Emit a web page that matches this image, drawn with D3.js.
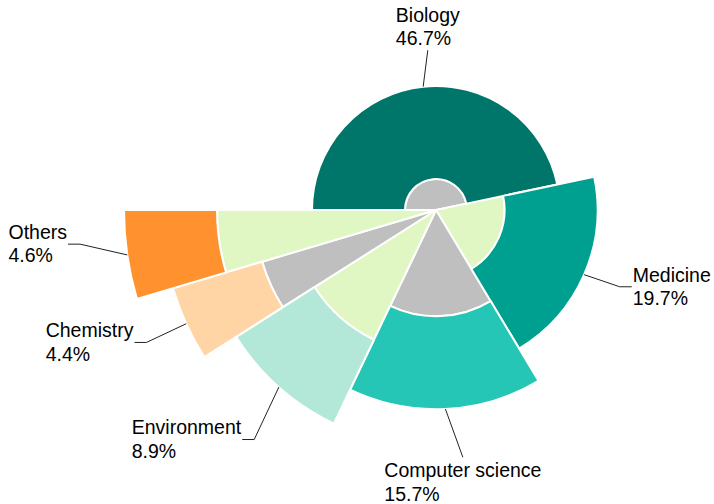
<!DOCTYPE html>
<html lang="en">
<head>
<meta charset="utf-8">
<title>Research areas</title>
<script src="https://d3js.org/d3.v7.min.js"></script>
<style>
    html, body { margin: 0; padding: 0; background: #fff; }
    svg { display: block; }
    .lbl { font-family: Arial, "Liberation Sans", sans-serif; font-size: 19.5px; fill: #000; }
</style>
</head>
<body>
<svg id="chart" width="714" height="504"></svg>
<script>

    // data
    var categories = ["Biology", "Medicine", "Computer science", "Environment", "Chemistry", "Others"];
    var shares = [46.7, 19.7, 15.7, 8.9, 4.4, 4.6];
    var ringColors = ["#00766b", "#00a091", "#26c6b7", "#b3e8d9", "#ffd5a6", "#ff912f"];
    var coreColors = ["#bfbfbf", "#e0f7c4"];

    // label tweaks (degrees, px)
    var labelTurn = [3, -0.9, -3.5, -3.2, -0.1, 2.8];
    var labelReach = [36, 37.5, 49.5, 56, 44, 45.6];

    var width = 714, height = 504;
    var cx = 436, cy = 210;
    var ringWidth = 93;

    var svg = d3.select("#chart");
    var g = svg.append("g").attr("transform", "translate(" + cx + "," + cy + ")");

    var coreR = d3.scaleLinear().domain([0, categories.length - 1]).range([31, 219]);

    var pie = d3.pie()
        .sort(null)
        .startAngle(-Math.PI / 2)
        .endAngle(3 * Math.PI / 2)
        .value(d => d);

    var slices = pie(shares);
    slices.forEach(function (d, i) {
        d.i = i;
        d.rIn = coreR(i);
        d.rOut = coreR(i) + ringWidth;
        d.mid = (d.startAngle + d.endAngle) / 2;
    });

    var arc = d3.arc();

    // inner wedges
    g.selectAll("path.core")
        .data(slices)
        .enter().append("path")
        .attr("class", "core")
        .attr("d", d => arc({innerRadius: 0, outerRadius: d.rIn, startAngle: d.startAngle, endAngle: d.endAngle}))
        .style("fill", d => coreColors[d.i % 2])
        .style("stroke", "white")
        .style("stroke-width", 2)
        .style("stroke-linejoin", "round");

    // outer rings
    g.selectAll("path.ring")
        .data(slices)
        .enter().append("path")
        .attr("class", "ring")
        .attr("d", d => arc({innerRadius: d.rIn, outerRadius: d.rOut, startAngle: d.startAngle, endAngle: d.endAngle}))
        .style("fill", d => ringColors[d.i])
        .style("stroke", "white")
        .style("stroke-width", 2)
        .style("stroke-linejoin", "round");

    function polar(r, a) {
        return [r * Math.sin(a), -r * Math.cos(a)];
    }

    var lineH = 23.4, ascent = 18.15;

    slices.forEach(function (d) {
        var p0 = polar(d.rOut, d.mid);
        var a1 = d.mid + labelTurn[d.i] * Math.PI / 180;
        var p1 = polar(d.rOut + labelReach[d.i], a1);
        var s = Math.sin(d.mid);
        var vertical = Math.abs(s) < 0.3;
        var pts = [p0, p1];
        var side = s > 0 ? 1 : -1;
        var p2 = p1;
        if (!vertical) {
            p2 = [p1[0] + side * 12, p1[1]];
            pts.push(p2);
        }

        g.append("path")
            .attr("d", d3.line()(pts))
            .style("fill", "none")
            .style("stroke", "#222")
            .style("stroke-width", 1);

        var lines = [categories[d.i], d3.format(".1f")(shares[d.i]) + "%"];
        var t = g.append("text").attr("class", "lbl");
        var spans = lines.map(function (txt, k) {
            return t.append("tspan").text(txt);
        });
        var w = d3.max(spans, sp => sp.node().getComputedTextLength());

        var left, top;
        if (vertical) {
            left = p1[0] - w / 2;
            top = Math.cos(d.mid) > 0 ? p1[1] - 2 * lineH : p1[1] + 2;
        } else {
            left = side > 0 ? p2[0] + 1 : p2[0] - 1 - w;
            top = p2[1] - lineH;
        }
        spans.forEach(function (sp, k) {
            sp.attr("x", left).attr("y", top + ascent + k * lineH);
        });
    });

</script>
</body>
</html>
